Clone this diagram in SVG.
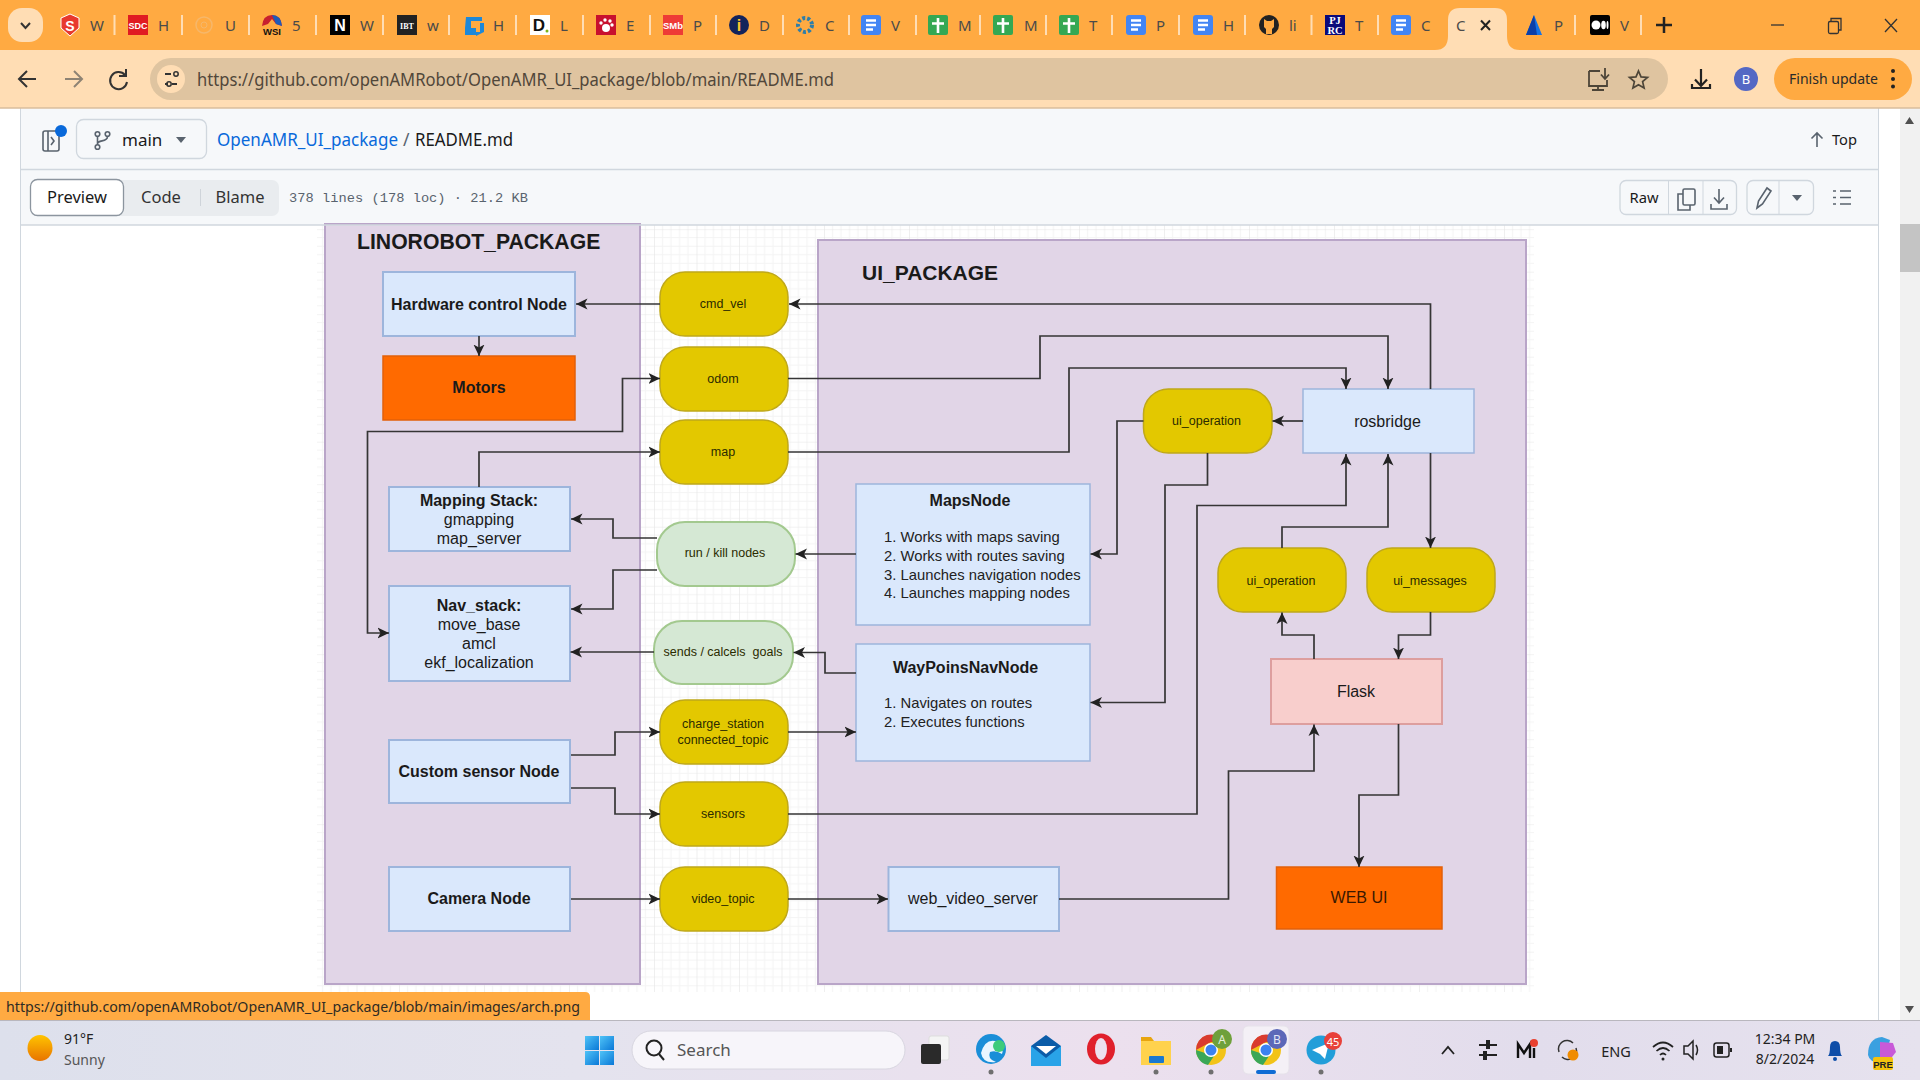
<svg xmlns="http://www.w3.org/2000/svg" width="1920" height="1080" viewBox="0 0 1920 1080">
<style>
text{font-family:"Liberation Sans",Arial,sans-serif;fill:#1a1a1a}
.ui{font-family:"Noto Sans","Liberation Sans",sans-serif}
.c{text-anchor:middle}
.b{font-weight:700}
.n16{font-size:16px}
.p{font-size:12.5px;text-anchor:middle;fill:#2b2b00;white-space:pre}
.li{font-size:14.8px;fill:#222}
.blue{fill:#DAE8FC;stroke:#9DB5DC;stroke-width:2}
.org{fill:#FF6A00;stroke:#E2600A;stroke-width:1.5}
.yel{fill:#E3C800;stroke:#BFA81A;stroke-width:1.5}
.grn{fill:#D5E8D4;stroke:#A3C98F;stroke-width:2}
.pkg{fill:#E1D5E7;stroke:#B9A5C8;stroke-width:2}
.con path{fill:none;stroke:#353535;stroke-width:1.7}
.tl{font-size:15px;fill:#4a4a4a}
.sep{stroke:#FFDDB4;stroke-width:2}
.ic{fill:none;stroke:#333;stroke-width:2}
.btn{fill:#F6F8FA;stroke:#D0D7DE;stroke-width:1.3}
.gr{fill:none;stroke:#59636E;stroke-width:1.6}
.dot{fill:#6f6f6f}
</style>
<defs>
<marker id="a" markerUnits="userSpaceOnUse" markerWidth="13" markerHeight="12" refX="11.500" refY="6" orient="auto-start-reverse"><path d="M0,0.500 L11.500,6 L0,11.500 L3,6 z" fill="#222"/></marker>
<pattern id="grid" patternUnits="userSpaceOnUse" width="42.5" height="42.5" patternTransform="translate(654 271.7)">
<rect width="42.5" height="42.5" fill="#fff"/>
<path d="M8.500 0V42.500M17 0V42.500M25.500 0V42.500M34 0V42.500M0 8.500H42.500M0 17H42.500M0 25.500H42.500M0 34H42.500" stroke="#F4F4F4" stroke-width="1"/>
<path d="M0 0V42.500M0 0H42.500" stroke="#E6E6E6" stroke-width="1.200"/>
</pattern>
<g id="doc"><rect x="-10" y="-10" width="20" height="20" rx="3" fill="#4285F4"/><path d="M-5 -4.500H5M-5 0H5M-5 4.500H2" stroke="#fff" stroke-width="2.400"/></g>
<g id="plus"><rect x="-10" y="-10" width="20" height="20" rx="2" fill="#34A853"/><path d="M0 -7V8M-6 -1.500H6" stroke="#fff" stroke-width="2.600"/></g>
<linearGradient id="tb" x1="0" y1="0" x2="1" y2="0"><stop offset="0" stop-color="#DDE0EC"/><stop offset=".3" stop-color="#E4E3EE"/><stop offset=".58" stop-color="#ECE0EE"/><stop offset=".8" stop-color="#E2DDEC"/><stop offset="1" stop-color="#E6E2EE"/></linearGradient>
<linearGradient id="sun" x1="0" y1="0" x2="0" y2="1"><stop offset="0" stop-color="#FFC400"/><stop offset="1" stop-color="#E87400"/></linearGradient>
<linearGradient id="win" x1="0" y1="0" x2="1" y2="1"><stop offset="0" stop-color="#4FC3F7"/><stop offset="1" stop-color="#0A78D7"/></linearGradient>
</defs>

<rect width="1920" height="1080" fill="#fff"/>

<g id="page">
<rect x="317" y="225" width="1217" height="767" fill="url(#grid)"/>
<path d="M20.500 108V992M1878.500 108V1020" stroke="#D0D7DE" fill="none"/>
<rect x="1900" y="108" width="20" height="912" fill="#F1F1F1"/>
<rect x="1900" y="224" width="20" height="48" fill="#C4C4C4"/>
<path d="M1905 124L1909.500 117L1914 124ZM1905 1006L1909.500 1013L1914 1006Z" fill="#505050"/>
<rect x="21" y="109" width="1857" height="116" fill="#F6F8FA"/>
<path d="M21 169.500H1878" stroke="#D0D7DE" stroke-width="1.300"/>
<g id="file-header">
<rect x="43" y="131" width="16" height="20" rx="2" class="gr"/><path d="M48 131V151M51 137L54 141L51 145" class="gr" stroke-width="1.200"/><circle cx="61" cy="131" r="6" fill="#0969DA"/>
<rect x="76.500" y="119.500" width="130" height="39" rx="7" class="btn"/>
<path d="M97.500 136.500V145M107.500 136.500C107.500 143 97.500 139 97.500 144" class="gr"/><circle cx="97.500" cy="134" r="2.300" class="gr"/><circle cx="107.500" cy="134" r="2.300" class="gr"/><circle cx="97.500" cy="147" r="2.300" class="gr"/>
<text x="122" y="146" class="ui" font-size="17">main</text>
<path d="M176 137H186L181 143Z" fill="#59636E"/>
<text x="217" y="146" class="ui" font-size="17.500" textLength="181" lengthAdjust="spacingAndGlyphs" style="fill:#0969DA">OpenAMR_UI_package</text>
<text x="403" y="146" class="ui" font-size="17.500" style="fill:#59636E">/</text>
<text x="415" y="146" class="ui" font-size="17.500" textLength="98" lengthAdjust="spacingAndGlyphs">README.md</text>
<path d="M1817 147V133M1811.500 138.500L1817 133L1822.500 138.500" class="gr"/>
<text x="1832" y="145" class="ui" font-size="15" textLength="25" lengthAdjust="spacingAndGlyphs">Top</text>
</g>
<g id="file-toolbar">
<rect x="30" y="180" width="249" height="36" rx="7" fill="#E9ECEF"/>
<rect x="30.500" y="179.500" width="93" height="36" rx="7" fill="#fff" stroke="#8C959F" stroke-width="1.300"/>
<text x="77" y="203" class="ui c" font-size="16.500">Preview</text>
<text x="161" y="203" class="ui c" font-size="16.500" style="fill:#333">Code</text>
<path d="M200.500 189V206" stroke="#CFD4DA"/>
<text x="240" y="203" class="ui c" font-size="16.500" style="fill:#333">Blame</text>
<text x="289" y="202" font-size="13.700" textLength="239" style="font-family:'Liberation Mono',monospace;fill:#59636E">378 lines (178 loc) · 21.2 KB</text>
<rect x="1620" y="180.500" width="116.500" height="34" rx="6" class="btn"/>
<path d="M1668.500 181V214M1703 181V214" stroke="#D0D7DE"/>
<text x="1644" y="203" class="ui c" font-size="15" textLength="29" lengthAdjust="spacingAndGlyphs">Raw</text>
<rect x="1683" y="189" width="12" height="16" rx="1.500" class="gr"/><path d="M1683 194H1678V210H1690V205" class="gr"/>
<path d="M1719 189V202M1714 197.500L1719 203L1724 197.500M1711 204V209H1727V204" class="gr"/>
<rect x="1747" y="180.500" width="66.500" height="34" rx="6" class="btn"/>
<path d="M1779 181V214" stroke="#D0D7DE"/>
<path d="M1757 208L1758.500 201L1767 188L1771 191L1762.500 204Z" class="gr"/>
<path d="M1792 195H1802L1797 201Z" fill="#59636E"/>
<path d="M1840 191H1851M1840 197.500H1851M1840 204H1851" class="gr"/><path d="M1833 191H1836M1833 197.500H1836M1833 204H1836" class="gr"/>
</g>
</g>

<g id="browser-chrome">
<rect width="1920" height="50" fill="#FFAA42"/>
<rect y="50" width="1920" height="58" fill="#FFDDB4"/>
<path d="M0 108H1920" stroke="#D9BD9C" stroke-width="1.500"/>
<path d="M1435 50Q1448 50 1448 36V20Q1448 8 1460 8H1495Q1507 8 1507 20V36Q1507 50 1520 50Z" fill="#FFDDB4"/>
<rect x="8" y="8" width="35" height="34" rx="14" fill="#FFDDB4"/>
<path d="M21 23L25.500 28L30 23" class="ic"/>
<path d="M114.500 15V35M182 15V35M249 15V35M316 15V35M383 15V35M449 15V35M516 15V35M583 15V35M650 15V35M716 15V35M783 15V35M849 15V35M916 15V35M980 15V35M1046 15V35M1112 15V35M1179 15V35M1245 15V35M1311.500 15V35M1378 15V35M1575 15V35M1641 15V35" class="sep"/>
<g id="tab-icons">
<path d="M70 14L79 18V28L70 36L61 28V18Z" fill="#E8382D" stroke="#fff" stroke-width="1"/><text x="70" y="31" class="c b" font-size="14" style="fill:#fff">S</text>
<rect x="128" y="15" width="20" height="20" fill="#E01B22"/><text x="138" y="29" class="c b" font-size="9" style="fill:#fff">SDC</text>
<circle cx="204" cy="25" r="8" fill="none" stroke="#F6B76A" stroke-width="1.500"/><circle cx="204" cy="25" r="3" fill="none" stroke="#F6B76A"/>
<path d="M262 26Q263 15 272 15Q281 15 282 26L276 24L272 19L268 24Z" fill="#C8202F"/><path d="M272 15L276 24L282 26Q281 15 272 15Z" fill="#1E5BB8"/><text x="272" y="35" class="c b" font-size="9.500" style="fill:#111">WSI</text>
<rect x="330" y="15" width="20" height="20" fill="#000"/><text x="340" y="31" class="c b" font-size="16" style="fill:#fff">N</text>
<rect x="397" y="15" width="20" height="20" fill="#222"/><text x="407" y="28.500" class="c b" font-size="8" style="font-family:'Liberation Serif',serif;fill:#fff">IBT</text>
<path d="M466 17H482V21H471V28H476V35H465V28M480 23H484V32L476 36V32H480Z" fill="#1E88D8"/>
<rect x="530" y="15" width="20" height="20" fill="#fff"/><text x="539" y="31" class="c b" font-size="17" style="fill:#111">D</text><circle cx="547" cy="31" r="1.500" fill="#7CB518"/>
<rect x="596" y="15" width="20" height="20" fill="#C8102E"/><circle cx="606" cy="28" r="4" fill="#fff"/><circle cx="601" cy="23" r="1.700" fill="#fff"/><circle cx="605" cy="20" r="1.700" fill="#fff"/><circle cx="610" cy="21" r="1.700" fill="#fff"/><circle cx="612" cy="25" r="1.700" fill="#fff"/>
<rect x="663" y="15" width="20" height="20" fill="#EE3B36"/><text x="673" y="29" class="c b" font-size="9.500" style="fill:#fff">SMb</text>
<circle cx="739" cy="25" r="10" fill="#13235B"/><text x="739" y="31" class="c b" font-size="16" style="fill:#FFC72C">i</text>
<circle cx="805" cy="25" r="7" fill="none" stroke="#2F7EA8" stroke-width="4" stroke-dasharray="3 2"/>
<use href="#doc" x="871" y="25"/><use href="#plus" x="938" y="25"/><use href="#plus" x="1003" y="25"/><use href="#plus" x="1069" y="25"/>
<use href="#doc" x="1136" y="25"/><use href="#doc" x="1203" y="25"/>
<circle cx="1269" cy="25" r="10" fill="#222"/><path d="M1264 19L1267 21H1271L1274 19V27L1272 29V34H1266V29L1264 27Z" fill="#FFAA42"/>
<rect x="1325" y="15" width="20" height="20" fill="#0A0A7A"/><text x="1335" y="24" class="c b" font-size="10.500" style="font-family:'Liberation Serif',serif;fill:#fff">PJ</text><text x="1335" y="34" class="c b" font-size="10.500" style="font-family:'Liberation Serif',serif;fill:#fff">RC</text>
<use href="#doc" x="1401" y="25"/>
<path d="M1534 15L1542 35H1526Z" fill="#1473E6"/><path d="M1534 15L1537 35H1526Z" fill="#0B3FA8"/>
<rect x="1590" y="15" width="20" height="20" rx="2" fill="#000"/><circle cx="1596" cy="25" r="4.500" fill="#fff"/><ellipse cx="1603.500" cy="25" rx="2.300" ry="4.300" fill="#fff"/><ellipse cx="1607.500" cy="25" rx="1" ry="4" fill="#fff"/>
</g>
<g id="tab-labels">
<text x="90" y="31" class="tl ui">W</text><text x="158" y="31" class="tl ui">H</text><text x="225" y="31" class="tl ui">U</text><text x="292" y="31" class="tl ui">5</text><text x="360" y="31" class="tl ui">W</text><text x="427" y="31" class="tl ui">w</text><text x="493" y="31" class="tl ui">H</text><text x="560" y="31" class="tl ui">L</text><text x="626" y="31" class="tl ui">E</text><text x="693" y="31" class="tl ui">P</text><text x="759" y="31" class="tl ui">D</text><text x="825" y="31" class="tl ui">C</text><text x="891" y="31" class="tl ui">V</text><text x="958" y="31" class="tl ui">M</text><text x="1024" y="31" class="tl ui">M</text><text x="1089" y="31" class="tl ui">T</text><text x="1156" y="31" class="tl ui">P</text><text x="1223" y="31" class="tl ui">H</text><text x="1289" y="31" class="tl ui">li</text><text x="1355" y="31" class="tl ui">T</text><text x="1421" y="31" class="tl ui">C</text><text x="1456" y="31" class="tl ui">C</text><text x="1554" y="31" class="tl ui">P</text><text x="1620" y="31" class="tl ui">V</text>
</g>
<path d="M1481 20.500L1490 30M1490 20.500L1481 30" stroke="#222" stroke-width="2"/>
<path d="M1664 17V33M1656 25H1672" stroke="#222" stroke-width="2.500"/>
<path d="M1771 25H1784" stroke="#333" stroke-width="1.300"/>
<rect x="1828.500" y="21.500" width="10" height="12" rx="1.500" fill="none" stroke="#333" stroke-width="1.300"/><path d="M1831 21.500V18.500H1841V30H1838.500" fill="none" stroke="#333" stroke-width="1.300"/>
<path d="M1885 19L1897 32M1897 19L1885 32" stroke="#333" stroke-width="1.300"/>
<g id="toolbar">
<path d="M36 79H20M27 71L19 79L27 87" class="ic"/>
<path d="M65 79H81M74 71L82 79L74 87" class="ic" style="stroke:#8E8374"/>
<path d="M125 75A8.500 8.500 0 1 0 127 82M126 69V76H119" class="ic"/>
<rect x="150" y="58" width="1518" height="42" rx="21" fill="#DFC4A0"/>
<circle cx="171" cy="79" r="14" fill="#FFDDB4"/>
<path d="M165 74H171M172 84H177M165 84H168" stroke="#333" stroke-width="1.800"/><circle cx="176" cy="74" r="2.200" fill="none" stroke="#333" stroke-width="1.500"/><circle cx="169" cy="84" r="2.200" fill="none" stroke="#333" stroke-width="1.500"/>
<text x="197" y="85.500" class="ui" font-size="17.500" textLength="637" lengthAdjust="spacingAndGlyphs" style="fill:#51473A">https://github.com/openAMRobot/OpenAMR_UI_package/blob/main/README.md</text>
<path d="M1589 71H1600M1589 71V86H1607V80M1598 86V90M1592 90H1604M1605 68V78M1601 74.500L1605 79L1609 74.500" fill="none" stroke="#4D4538" stroke-width="1.800"/>
<path d="M1638.500 71L1641 76.900L1647.500 77.400L1642.600 81.600L1644.100 88L1638.500 84.700L1632.900 88L1634.400 81.600L1629.500 77.400L1636 76.900Z" fill="none" stroke="#4D4538" stroke-width="1.700"/>
<path d="M1701 69V85M1695 79.500L1701 86L1707 79.500M1692 84V88H1710V84" fill="none" stroke="#222" stroke-width="2.200"/>
<circle cx="1746" cy="79" r="12" fill="#5468C4"/><text x="1746" y="84" class="c ui" font-size="13" style="fill:#fff">B</text>
<rect x="1774" y="58" width="138" height="42" rx="21" fill="#FFAA42"/>
<text x="1789" y="84" class="ui" font-size="14.500" textLength="89" lengthAdjust="spacingAndGlyphs" style="fill:#2A2A2A">Finish update</text>
<circle cx="1893" cy="71" r="2" fill="#222"/><circle cx="1893" cy="79" r="2" fill="#222"/><circle cx="1893" cy="86.500" r="2" fill="#222"/>
</g>
</g>

<g id="packages">
<rect id="linorobot-package" x="325" y="224" width="315" height="760" class="pkg"/>
<rect id="ui-package" x="818" y="240" width="708" height="744" class="pkg"/>
<text x="357" y="249" class="b" font-size="21.200">LINOROBOT_PACKAGE</text>
<text x="862" y="280" class="b" font-size="21">UI_PACKAGE</text>
</g>
<path d="M21 225H1878" stroke="#D0D7DE" stroke-width="1.300"/>

<g id="hardware-control-node"><rect x="383" y="272" width="192" height="64" class="blue"/><text x="479" y="310" class="c b n16">Hardware control Node</text></g>
<g id="motors"><rect x="383" y="356" width="192" height="64" class="org"/><text x="479" y="393" class="c b n16">Motors</text></g>
<g id="mapping-stack"><rect x="389" y="487" width="181" height="64" class="blue"/><text x="479" y="506" class="c b n16">Mapping Stack:</text><text x="479" y="525" class="c n16">gmapping</text><text x="479" y="544" class="c n16">map_server</text></g>
<g id="nav-stack"><rect x="389" y="586" width="181" height="95" class="blue"/><text x="479" y="611" class="c b n16">Nav_stack:</text><text x="479" y="630" class="c n16">move_base</text><text x="479" y="649" class="c n16">amcl</text><text x="479" y="668" class="c n16">ekf_localization</text></g>
<g id="custom-sensor-node"><rect x="389" y="740" width="181" height="63" class="blue"/><text x="479" y="777" class="c b n16">Custom sensor Node</text></g>
<g id="camera-node"><rect x="389" y="867" width="181" height="64" class="blue"/><text x="479" y="904" class="c b n16">Camera Node</text></g>

<g id="cmd-vel"><rect x="660" y="272" width="128" height="64" rx="25" class="yel"/><text x="723" y="308" class="p">cmd_vel</text></g>
<g id="odom"><rect x="660" y="347" width="128" height="64" rx="25" class="yel"/><text x="723" y="383" class="p">odom</text></g>
<g id="map"><rect x="660" y="420" width="128" height="64" rx="25" class="yel"/><text x="723" y="456" class="p">map</text></g>
<g id="run-kill-nodes"><rect x="657" y="522" width="138" height="64" rx="28" class="grn"/><text x="725" y="557" class="p">run / kill nodes</text></g>
<g id="sends-cancels-goals"><rect x="654" y="621" width="139" height="63" rx="28" class="grn"/><text x="723" y="656" class="p">sends / calcels  goals</text></g>
<g id="charge-station"><rect x="660" y="700" width="128" height="64" rx="25" class="yel"/><text x="723" y="728" class="p">charge_station</text><text x="723" y="744" class="p">connected_topic</text></g>
<g id="sensors"><rect x="660" y="782" width="128" height="64" rx="25" class="yel"/><text x="723" y="818" class="p">sensors</text></g>
<g id="video-topic"><rect x="660" y="867" width="128" height="64" rx="25" class="yel"/><text x="723" y="903" class="p">video_topic</text></g>

<g id="maps-node"><rect x="856" y="484" width="234" height="141" class="blue" style="stroke-width:1.500"/><text x="970" y="506" class="c b n16">MapsNode</text>
<text x="884" y="542" class="li">1.</text><text x="900.500" y="542" class="li">Works with maps saving</text>
<text x="884" y="561" class="li">2.</text><text x="900.500" y="561" class="li">Works with routes saving</text>
<text x="884" y="579.500" class="li">3.</text><text x="900.500" y="579.500" class="li">Launches navigation nodes</text>
<text x="884" y="598" class="li">4.</text><text x="900.500" y="598" class="li">Launches mapping nodes</text></g>
<g id="waypoints-nav-node"><rect x="856" y="644" width="234" height="117" class="blue" style="stroke-width:1.500"/><text x="965.500" y="673" class="c b n16">WayPoinsNavNode</text>
<text x="884" y="708" class="li">1.</text><text x="900.500" y="708" class="li">Navigates on routes</text>
<text x="884" y="727" class="li">2.</text><text x="900.500" y="727" class="li">Executes functions</text></g>
<g id="ui-operation-top"><rect x="1143.500" y="389" width="128.500" height="64" rx="25" class="yel"/><text x="1206.500" y="425" class="p">ui_operation</text></g>
<g id="rosbridge"><rect x="1303" y="389" width="171" height="64" class="blue" style="stroke-width:1.500"/><text x="1387.500" y="427" class="c n16">rosbridge</text></g>
<g id="ui-operation-bottom"><rect x="1218" y="548" width="128" height="64" rx="25" class="yel"/><text x="1281" y="585" class="p">ui_operation</text></g>
<g id="ui-messages"><rect x="1367" y="548" width="128" height="64" rx="25" class="yel"/><text x="1430" y="585" class="p">ui_messages</text></g>
<g id="flask"><rect x="1271" y="659" width="171" height="65" fill="#F8CECC" stroke="#DD9E9E" stroke-width="2"/><text x="1356" y="697" class="c n16">Flask</text></g>
<g id="web-video-server"><rect x="888.500" y="867" width="170.500" height="64" class="blue"/><text x="973" y="904" class="c n16">web_video_server</text></g>
<g id="web-ui"><rect x="1276.500" y="867" width="165.500" height="62" class="org"/><text x="1359" y="903" class="c n16" style="fill:#3A1800">WEB UI</text></g>

<g id="connectors" class="con">
<path d="M1430.500 389V304H789" marker-end="url(#a)"/>
<path d="M660 304H576" marker-end="url(#a)"/>
<path d="M479 336V356" marker-end="url(#a)"/>
<path d="M660 378.500H622.500V431.500H367.500V633H389" marker-start="url(#a)" marker-end="url(#a)"/>
<path d="M479 487V452H660" marker-end="url(#a)"/>
<path d="M657 538H613V519H571" marker-end="url(#a)"/>
<path d="M657 570H613V609H571" marker-end="url(#a)"/>
<path d="M654 652H570.500" marker-end="url(#a)"/>
<path d="M571 755H615V732H660" marker-end="url(#a)"/>
<path d="M571 788H615V814H660" marker-end="url(#a)"/>
<path d="M571 899H660" marker-end="url(#a)"/>
<path d="M788 899H888" marker-end="url(#a)"/>
<path d="M788 814H1197V505.500H1346V454" marker-end="url(#a)"/>
<path d="M788 378.500H1040V336H1388V389" marker-end="url(#a)"/>
<path d="M788 452H1069V368H1346V389" marker-end="url(#a)"/>
<path d="M1303 421H1272.500" marker-end="url(#a)"/>
<path d="M1143.500 421H1117V554H1090.500" marker-end="url(#a)"/>
<path d="M856 554H795.500" marker-end="url(#a)"/>
<path d="M1207.500 453V485H1165V702.500H1090.500" marker-end="url(#a)"/>
<path d="M1282 548V527H1388V454" marker-end="url(#a)"/>
<path d="M1430.500 453V548" marker-end="url(#a)"/>
<path d="M1314 659V635H1282V612.500" marker-end="url(#a)"/>
<path d="M1430.500 612V635H1398.500V659" marker-end="url(#a)"/>
<path d="M856 673H825V652.500H793.500" marker-end="url(#a)"/>
<path d="M788 732H856" marker-end="url(#a)"/>
<path d="M1059 899H1228.500V771H1314V724.500" marker-end="url(#a)"/>
<path d="M1398.500 724V795H1359V867" marker-end="url(#a)"/>
</g>

<g id="status-bubble">
<path d="M0 992H585Q590 992 590 997V1020H0Z" fill="#FFAA42"/>
<text x="6" y="1012" class="ui" font-size="14.500" textLength="574" lengthAdjust="spacingAndGlyphs" style="fill:#2E2A24">https://github.com/openAMRobot/OpenAMR_UI_package/blob/main/images/arch.png</text>
</g>

<g id="taskbar">
<rect y="1020" width="1920" height="60" fill="url(#tb)"/>
<path d="M0 1020.500H1920" stroke="#B9B7BE"/>
<ellipse cx="40" cy="1048" rx="12.500" ry="13" fill="url(#sun)"/>
<text x="64" y="1044" class="ui" font-size="14" style="fill:#222">91°F</text>
<text x="64" y="1065" class="ui" font-size="14" style="fill:#555">Sunny</text>
<rect x="585" y="1036" width="14" height="14" fill="url(#win)"/><rect x="600" y="1036" width="14" height="14" fill="url(#win)"/><rect x="585" y="1051" width="14" height="14" fill="url(#win)"/><rect x="600" y="1051" width="14" height="14" fill="url(#win)"/>
<rect x="632" y="1031" width="273" height="38" rx="19" fill="#F7F5FA" stroke="#D8D6E0"/>
<circle cx="654" cy="1048" r="7.500" fill="none" stroke="#222" stroke-width="2"/><path d="M659 1054L664 1060" stroke="#222" stroke-width="2"/>
<text x="677" y="1056" class="ui" font-size="17" style="fill:#555">Search</text>
<rect x="929" y="1036" width="20" height="24" rx="2" fill="#F4F4F4" stroke="#DDD"/><rect x="921" y="1044" width="20" height="20" rx="2" fill="#2A2A2A"/>
<g id="edge"><circle cx="991" cy="1049" r="15" fill="#1A8ED8"/><path d="M981 1053Q985 1039 995 1041Q1005 1044 1002 1054Q996 1050 990 1052Q987 1059 996 1062Q983 1064 981 1053Z" fill="#EAF6FF"/><circle cx="999" cy="1046" r="6" fill="#3DCB7B"/></g>
<g id="mail"><rect x="1031" y="1046" width="30" height="20" fill="#29A3E8"/><path d="M1031 1046L1046 1035L1061 1046L1046 1058Z" fill="#0B5CA8"/><path d="M1036 1046H1056L1046 1054Z" fill="#fff"/></g>
<g id="opera"><ellipse cx="1101" cy="1049" rx="14" ry="15.500" fill="#E0202C"/><ellipse cx="1101" cy="1049" rx="6" ry="11" fill="#ECE0EE"/></g>
<g id="files"><path d="M1141 1037H1151L1154 1041H1171V1045H1141Z" fill="#E8A50F"/><rect x="1141" y="1041" width="30" height="24" fill="#FFD24D"/><rect x="1149" y="1056" width="15" height="7" rx="1" fill="#1A78D0"/></g>
<g id="chrome-a"><circle cx="1211" cy="1050" r="15" fill="#F2C318"/><path d="M1196 1050A15 15 0 0 1 1224 1042L1211 1042Z" fill="#D93B2F"/><path d="M1196 1050A15 15 0 0 0 1208 1065L1214 1056Z" fill="#3AA757"/><circle cx="1211" cy="1050" r="7" fill="#fff"/><circle cx="1211" cy="1050" r="5.500" fill="#3B82F0"/><circle cx="1222" cy="1039" r="10" fill="#6FA03B"/><text x="1222" y="1044" class="c ui" font-size="12" style="fill:#E4EED8">A</text></g>
<rect x="1243" y="1026" width="46" height="48" rx="5" fill="#F4F0F6" stroke="#E6E2EA"/>
<g id="chrome-b"><circle cx="1266" cy="1050" r="15" fill="#F2C318"/><path d="M1251 1050A15 15 0 0 1 1279 1042L1266 1042Z" fill="#D93B2F"/><path d="M1251 1050A15 15 0 0 0 1263 1065L1269 1056Z" fill="#3AA757"/><circle cx="1266" cy="1050" r="7" fill="#fff"/><circle cx="1266" cy="1050" r="5.500" fill="#3B82F0"/><circle cx="1277" cy="1039" r="10" fill="#5C68B8"/><text x="1277" y="1044" class="c ui" font-size="12" style="fill:#E4E6F6">B</text></g>
<g id="telegram"><circle cx="1321" cy="1050" r="14.500" fill="#229ED9"/><path d="M1312 1050L1329 1043L1325 1059L1320 1054Z" fill="#fff"/><circle cx="1333" cy="1041" r="9" fill="#E8413A"/><text x="1333" y="1046" class="c ui" font-size="11" style="fill:#fff">45</text></g>
<circle cx="991" cy="1072" r="2.500" class="dot"/><circle cx="1156" cy="1072" r="2.500" class="dot"/><circle cx="1211" cy="1072" r="2.500" class="dot"/><circle cx="1321" cy="1072" r="2.500" class="dot"/><rect x="1256" y="1070" width="20" height="4" rx="2" fill="#0F6CD4"/>
<path d="M1442 1054L1448 1047L1454 1054" fill="none" stroke="#222" stroke-width="1.800"/>
<path d="M1479 1045H1497M1479 1055H1497" stroke="#222" stroke-width="2"/><rect x="1486" y="1040" width="4" height="9" fill="#222"/><rect x="1483" y="1051" width="4" height="9" fill="#222"/>
<path d="M1518 1058V1044L1524 1053L1530 1044V1058M1534 1048V1058" fill="none" stroke="#111" stroke-width="2.400"/><circle cx="1534" cy="1043" r="4" fill="#E8402F"/>
<path d="M1559 1052A8.500 8.500 0 0 1 1573 1043M1576 1048A8.500 8.500 0 0 1 1562 1057" fill="none" stroke="#333" stroke-width="1.500"/><circle cx="1573" cy="1055" r="5.500" fill="#F08C00"/>
<text x="1616" y="1057" class="c ui" font-size="14.500" style="fill:#222">ENG</text>
<path d="M1653 1047Q1663 1038 1673 1047M1656.500 1051Q1663 1045 1669.500 1051M1660 1055Q1663 1052 1666 1055" fill="none" stroke="#222" stroke-width="1.700"/><circle cx="1663" cy="1059" r="1.500" fill="#222"/>
<path d="M1684 1046H1688L1693 1041V1059L1688 1054H1684ZM1696 1045Q1699 1050 1696 1055" fill="none" stroke="#222" stroke-width="1.500"/>
<rect x="1714" y="1043" width="15" height="14" rx="2.500" fill="none" stroke="#222" stroke-width="1.500"/><rect x="1717" y="1046" width="6" height="8" fill="#222"/><rect x="1730" y="1048" width="2" height="4" fill="#222"/>
<text x="1785" y="1044" class="c ui" font-size="14" style="fill:#222">12:34 PM</text>
<text x="1785" y="1064" class="c ui" font-size="14" style="fill:#222">8/2/2024</text>
<path d="M1828 1056Q1830 1054 1830 1047Q1830 1041 1835 1041Q1840 1041 1840 1047Q1840 1054 1842 1056Z" fill="#0F4EA8"/><circle cx="1835" cy="1059" r="2" fill="#0F4EA8"/>
<g id="copilot"><path d="M1868 1055Q1868 1038 1882 1037L1890 1040L1884 1062Q1870 1064 1868 1055Z" fill="#3AA0E0"/><path d="M1880 1042L1893 1043L1896 1052L1888 1062L1880 1060Z" fill="#C85AD8"/><rect x="1873" y="1057" width="20" height="13" rx="2" fill="#F4C20D"/><text x="1883" y="1067.500" class="c b" font-size="9.500" style="fill:#222">PRE</text></g>
</g>
</svg>
